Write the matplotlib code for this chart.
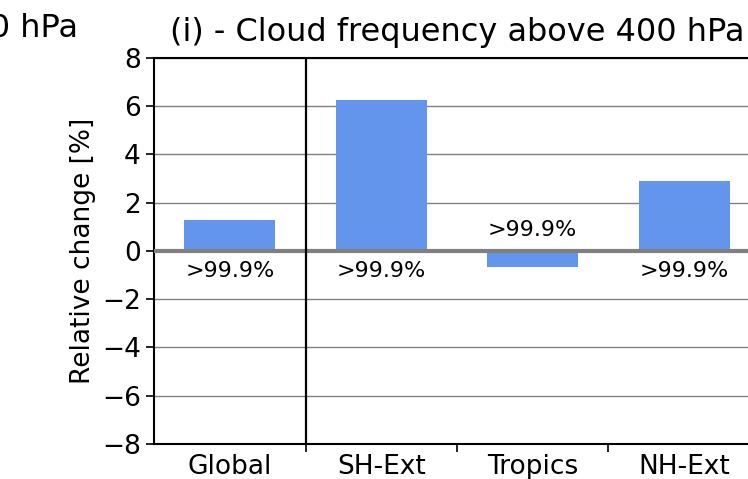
import matplotlib.pyplot as plt
import numpy as np

regions = ["Global", "SH-Ext", "Tropics", "NH-Ext"]
rel_change = [1.28, 6.25, -0.66, 2.9]
signif = [">99.9%", ">99.9%", ">99.9%", ">99.9%"]
y_ticks = [-8, -6, -4, -2, 0, 2, 4, 6, 8]

fig = plt.figure(figsize=(7.48, 4.79), dpi=100)
ax = fig.add_axes([0.2059, 0.0731, 0.8101, 0.806])

x = np.arange(len(regions))
ax.bar(x, rel_change, width=0.6, color='cornflowerblue', zorder=3)

for xi, val, txt in zip(x, rel_change, signif):
    if val >= 0:
        ax.text(xi, -0.42, txt, ha='center', va='top', fontsize=16)
    else:
        ax.text(xi, 0.45, txt, ha='center', va='bottom', fontsize=16)

ax.axhline(0, color='gray', linewidth=3, zorder=4)
ax.axvline(0.5, color='black', linewidth=1.6, zorder=4)

ax.set_xlim(-0.5, 3.5)
ax.set_ylim(-8, 8)
ax.set_yticks(y_ticks)
ax.set_xticks(x)
ax.set_xticklabels(regions)
ax.set_xticks([0.5, 1.5, 2.5], minor=True)
ax.tick_params(axis='x', which='major', length=0, labelsize=19, pad=7)
ax.tick_params(axis='x', which='minor', length=6, width=1.2)
ax.tick_params(axis='y', labelsize=19, length=6, width=1.2)
ax.grid(axis='y', color='gray', linewidth=1, zorder=0)

for side in ['left', 'bottom', 'top', 'right']:
    ax.spines[side].set_linewidth(1.5)

ax.set_ylabel("Relative change [%]", fontsize=19)
ax.set_title("(i) - Cloud frequency above 400 hPa", fontsize=23, pad=12)

# neighbouring panel's title, cut off at the left edge
fig.text(78 / 748, 1 - 37 / 479, "(h) - Cloud frequency above 700 hPa",
         ha='right', va='baseline', fontsize=23)

fig.savefig("out.png", dpi=100)
